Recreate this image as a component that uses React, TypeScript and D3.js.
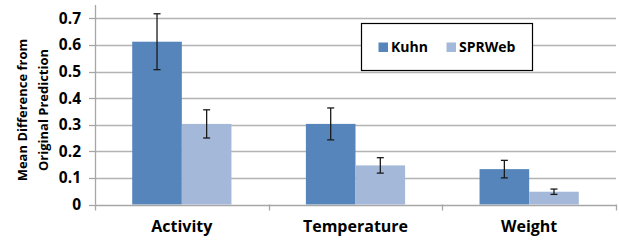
import React, { useEffect, useRef } from 'react';
import * as d3 from 'd3';

const categories = ['Activity', 'Temperature', 'Weight'];
const seriesNames = ['Kuhn', 'SPRWeb'];
const kuhnValues = [0.612, 0.303, 0.133];
const kuhnErrors = [0.105, 0.06, 0.033];
const sprwebValues = [0.303, 0.147, 0.048];
const sprwebErrors = [0.053, 0.029, 0.01];
const yTicks = [0, 0.1, 0.2, 0.3, 0.4, 0.5, 0.6, 0.7];
const colors = ['#5585BB', '#A4B8DA'];

const width = 619;
const height = 240;
const margin = { top: 5, right: 3, bottom: 35.5, left: 95 };
const font = '"Open Sans", "DejaVu Sans", sans-serif';

const App: React.FC = () => {
  const svgRef = useRef<SVGSVGElement>(null);

  useEffect(() => {
    if (!svgRef.current) return;
    const svg = d3.select(svgRef.current);
    svg.selectAll('*').remove();

    const innerWidth = width - margin.left - margin.right;
    const innerHeight = height - margin.top - margin.bottom;

    const x0 = d3.scaleBand().domain(categories).range([0, innerWidth]).padding(0);
    // gap width 150% -> 0.75 of a bar on each side of the pair
    const x1 = d3.scaleBand().domain(seriesNames).range([0, x0.bandwidth()]).paddingInner(0).paddingOuter(0.75);

    const y = d3.scaleLinear().domain([0, 0.75]).range([innerHeight, 0]);

    const g = svg.append('g').attr('transform', `translate(${margin.left},${margin.top})`);

    // gridlines
    g.selectAll('.grid')
      .data(yTicks.filter(t => t > 0))
      .enter()
      .append('line')
      .attr('x1', 0)
      .attr('x2', innerWidth)
      .attr('y1', d => Math.round(y(d)) + 0.5)
      .attr('y2', d => Math.round(y(d)) + 0.5)
      .attr('stroke', '#B3B3B3')
      .attr('stroke-width', 1.3);

    const series = [
      { name: seriesNames[0], values: kuhnValues, errors: kuhnErrors, color: colors[0] },
      { name: seriesNames[1], values: sprwebValues, errors: sprwebErrors, color: colors[1] },
    ];

    series.forEach(s => {
      g.append('g')
        .selectAll('rect')
        .data(categories)
        .enter()
        .append('rect')
        .attr('x', d => (x0(d) || 0) + (x1(s.name) || 0))
        .attr('width', x1.bandwidth())
        .attr('y', (d, i) => y(s.values[i]))
        .attr('height', (d, i) => innerHeight - y(s.values[i]))
        .attr('fill', s.color);
    });

    // axes
    g.append('line')
      .attr('x1', 0)
      .attr('x2', innerWidth)
      .attr('y1', Math.round(y(0)) + 0.5)
      .attr('y2', Math.round(y(0)) + 0.5)
      .attr('stroke', '#A6A6A6')
      .attr('stroke-width', 1.3);
    g.append('line')
      .attr('x1', 0.5)
      .attr('x2', 0.5)
      .attr('y1', 0)
      .attr('y2', innerHeight)
      .attr('stroke', '#A6A6A6')
      .attr('stroke-width', 1.3);

    // y ticks
    g.selectAll('.ytick')
      .data(yTicks)
      .enter()
      .append('line')
      .attr('x1', -6)
      .attr('x2', 0)
      .attr('y1', d => Math.round(y(d)) + 0.5)
      .attr('y2', d => Math.round(y(d)) + 0.5)
      .attr('stroke', '#A6A6A6')
      .attr('stroke-width', 1.3);
    g.selectAll('.ylabel')
      .data(yTicks)
      .enter()
      .append('text')
      .attr('x', -14)
      .attr('y', d => y(d))
      .attr('dy', '0.36em')
      .attr('text-anchor', 'end')
      .style('font-family', font)
      .style('font-weight', 'bold')
      .style('font-size', '15.5px')
      .style('fill', '#000')
      .text(d => (d === 0 ? '0' : d3.format('.1f')(d)));

    // x category ticks
    const boundaries = [0, ...categories.map(c => (x0(c) || 0) + x0.bandwidth())];
    g.selectAll('.xtick')
      .data(boundaries)
      .enter()
      .append('line')
      .attr('x1', d => Math.round(d) + 0.5)
      .attr('x2', d => Math.round(d) + 0.5)
      .attr('y1', innerHeight)
      .attr('y2', innerHeight + 6)
      .attr('stroke', '#A6A6A6')
      .attr('stroke-width', 1.3);

    g.selectAll('.xlabel')
      .data(categories)
      .enter()
      .append('text')
      .attr('x', d => (x0(d) || 0) + x0.bandwidth() / 2)
      .attr('y', innerHeight + 27.5)
      .attr('text-anchor', 'middle')
      .style('font-family', font)
      .style('font-weight', 'bold')
      .style('font-size', '16px')
      .style('fill', '#000')
      .text(d => d);

    // error bars
    series.forEach(s => {
      categories.forEach((c, i) => {
        const cx = (x0(c) || 0) + (x1(s.name) || 0) + x1.bandwidth() / 2;
        const top = y(s.values[i] + s.errors[i]);
        const bot = y(s.values[i] - s.errors[i]);
        const eg = g.append('g').attr('stroke', '#1a1a1a').attr('stroke-width', 1.3);
        eg.append('line').attr('x1', cx).attr('x2', cx).attr('y1', top).attr('y2', bot);
        eg.append('line').attr('x1', cx - 3.5).attr('x2', cx + 3.5).attr('y1', top).attr('y2', top);
        eg.append('line').attr('x1', cx - 3.5).attr('x2', cx + 3.5).attr('y1', bot).attr('y2', bot);
      });
    });

    // y axis title
    const yt = svg
      .append('text')
      .attr('transform', 'translate(33,110) rotate(-90)')
      .attr('text-anchor', 'middle')
      .style('font-family', font)
      .style('font-weight', 'bold')
      .style('font-size', '13px')
      .style('fill', '#000');
    yt.append('tspan').attr('x', 0).attr('y', -6).text('Mean Difference from');
    yt.append('tspan').attr('x', 0).attr('y', 15).text('Original Prediction');

    // legend
    const lg = svg.append('g').attr('transform', 'translate(361.5,23.5)');
    lg.append('rect')
      .attr('width', 171)
      .attr('height', 47)
      .attr('fill', '#fff')
      .attr('stroke', '#000')
      .attr('stroke-width', 1.2);
    const legendX = [17, 85];
    series.forEach((s, i) => {
      lg.append('rect')
        .attr('x', legendX[i])
        .attr('y', 19)
        .attr('width', 9.5)
        .attr('height', 9.5)
        .attr('fill', s.color);
      lg.append('text')
        .attr('x', legendX[i] + 12.5)
        .attr('y', 23.5)
        .attr('dy', '0.36em')
        .style('font-family', font)
        .style('font-weight', 'bold')
        .style('font-size', '14px')
        .style('fill', '#000')
        .text(s.name);
    });
  }, []);

  return <svg ref={svgRef} width={width} height={height} style={{ position: 'absolute', left: 0, top: 0 }} />;
};

export default App;
